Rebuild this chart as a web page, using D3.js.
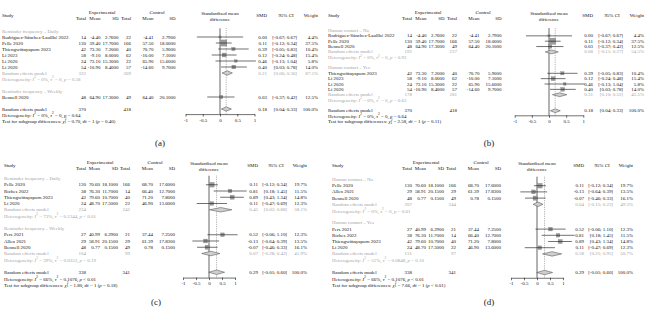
<!DOCTYPE html>
<html>
<head>
<meta charset="utf-8">
<script src="https://cdn.jsdelivr.net/npm/d3@7"></script>
<style>
body { margin: 0; background: #fff; }
svg { display: block; font-family: "Liberation Serif", "DejaVu Serif", serif; }
</style>
</head>
<body>
<div id="chart"></div>
<script>
// outcome 1 (panels a, b)
const studies1 = [
    { study: "Rodriguez-Sánchez-Laullhé 2022", nE: 14, mE: -4.40, sE: 2.76, nC: 22, mC: -4.41, sC: 2.79, smd: 0.00, lo: -0.67, hi: 0.67, w: 4.4 },
    { study: "Pelle 2020", nE: 130, mE: 59.40, sE: 17.70, nC: 166, mC: 57.50, sC: 18.00, smd: 0.11, lo: -0.12, hi: 0.34, w: 37.5 },
    { study: "Thiengwittayaporn 2023", nE: 42, mE: 73.30, sE: 7.20, nC: 40, mC: 70.70, sC: 5.90, smd: 0.39, lo: -0.05, hi: 0.83, w: 10.4 },
    { study: "Li 2023", nE: 58, mE: -9.10, sE: 8.00, nC: 62, mC: -10.00, sC: 7.10, smd: 0.12, lo: -0.24, hi: 0.48, w: 15.4 },
    { study: "Li 2020", nE: 24, mE: 73.10, sE: 15.30, nC: 22, mC: 65.90, sC: 15.60, smd: 0.46, lo: -0.13, hi: 1.04, w: 5.8 },
    { study: "Li 2020", nE: 54, mE: -10.90, sE: 8.40, nC: 57, mC: -14.60, sC: 9.70, smd: 0.40, lo: 0.03, hi: 0.78, w: 14.0 },
    { study: "Bennell 2020", nE: 48, mE: 64.90, sE: 17.30, nC: 49, mC: 64.40, sC: 20.10, smd: 0.03, lo: -0.37, hi: 0.42, w: 12.5 }
];

// outcome 2 (panels c, d)
const studies2 = [
    { study: "Pelle 2020", nE: 130, mE: 70.60, sE: 18.10, nC: 166, mC: 68.70, sC: 17.60, smd: 0.11, lo: -0.12, hi: 0.34, w: 19.7 },
    { study: "Riches 2022", nE: 38, mE: 76.30, sE: 11.70, nC: 14, mC: 66.40, sC: 12.70, smd: 0.81, lo: 0.18, hi: 1.45, w: 11.5 },
    { study: "Thiengwittayaporn 2023", nE: 42, mE: 79.60, sE: 10.70, nC: 40, mC: 71.20, sC: 7.80, smd: 0.89, lo: 0.43, hi: 1.34, w: 14.8 },
    { study: "Li 2020", nE: 24, mE: 48.70, sE: 17.50, nC: 22, mC: 46.90, sC: 13.60, smd: 0.11, lo: -0.47, hi: 0.69, w: 12.3 },
    { study: "Pers 2021", nE: 27, mE: 40.99, sE: 6.29, nC: 21, mC: 37.44, sC: 7.25, smd: 0.52, lo: -0.06, hi: 1.10, w: 12.3 },
    { study: "Allen 2021", nE: 29, mE: 58.91, sE: 20.15, nC: 29, mC: 61.39, sC: 17.83, smd: -0.13, lo: -0.64, hi: 0.39, w: 13.5 },
    { study: "Bennell 2020", nE: 48, mE: 0.77, sE: 0.15, nC: 49, mC: 0.78, sC: 0.15, smd: -0.07, lo: -0.46, hi: 0.33, w: 16.1 }
];

// subgroups
const groupsA = [
    { label: "Reminder frequency – Daily", ids: [0, 1, 2, 3, 4, 5],
      pooled: { nE: 322, nC: 369, smd: 0.21, lo: 0.06, hi: 0.36, w: 87.5 }, het: { i2: "0%", t2: "0", p: "= 0.58" } },
    { label: "Reminder frequency – Weekly", ids: [6] }
];
const groupsB = [
    { label: "Human contact – No", ids: [0, 1, 6],
      pooled: { nE: 192, nC: 237, smd: 0.08, lo: -0.11, hi: 0.27, w: 54.5 }, het: { i2: "0%", t2: "0", p: "= 0.92" } },
    { label: "Human contact – Yes", ids: [2, 3, 4, 5],
      pooled: { nE: 178, nC: 181, smd: 0.31, lo: 0.10, hi: 0.52, w: 45.5 }, het: { i2: "0%", t2: "0", p: "= 0.63" } }
];
const groupsC = [
    { label: "Reminder frequency – Daily", ids: [0, 1, 2, 3],
      pooled: { nE: 234, nC: 242, smd: 0.45, lo: 0.02, hi: 0.88, w: 58.1 }, het: { i2: "73%", t2: "0.1344", p: "< 0.01" } },
    { label: "Reminder frequency – Weekly", ids: [4, 5, 6],
      pooled: { nE: 104, nC: 99, smd: 0.07, lo: -0.28, hi: 0.42, w: 41.9 }, het: { i2: "39%", t2: "0.0353", p: "= 0.19" } }
];
const groupsD = [
    { label: "Human contact – No", ids: [0, 5, 6],
      pooled: { nE: 207, nC: 244, smd: 0.04, lo: -0.15, hi: 0.23, w: 49.3 }, het: { i2: "0%", t2: "0", p: "= 0.61" } },
    { label: "Human contact – Yes", ids: [4, 1, 2, 3],
      pooled: { nE: 131, nC: 97, smd: 0.58, lo: 0.21, hi: 0.95, w: 50.7 }, het: { i2: "51%", t2: "0.0848", p: "= 0.10" } }
];

// overall random effects
const overall1 = { nE: 370, nC: 418, smd: 0.18, lo: 0.04, hi: 0.33, w: 100.0 };
const overall2 = { nE: 338, nC: 341, smd: 0.29, lo: -0.01, hi: 0.60, w: 100.0 };
const hetAll1 = { i2: "0%", t2: "0", p: "= 0.64" };
const hetAll2 = { i2: "66%", t2: "0.1076", p: "< 0.01" };
const tests = [
    { chi: "0.70", p: "= 0.40" },
    { chi: "2.58", p: "= 0.11" },
    { chi: "1.80", p: "= 0.18" },
    { chi: "7.66", p: "< 0.01" }
];
const xTicks = [-1, -0.5, 0, 0.5, 1];

const W = 648, H = 313;
const FS = 4.95;
const GREY = "#a3a3a3";
const INK = "#111";

const colsAB = { tE: 86, mE: 100.5, sE: 118.5, tC: 131, mC: 153.5, sC: 175.5, smd: 267, ci: 297, w: 318, expC: 102, ctlC: 157 };
const colsCD = { tE: 86, mE: 100, sE: 118, tC: 130, mC: 153, sC: 175, smd: 258, ci: 287, w: 307, expC: 100, ctlC: 155 };

const svg = d3.select("#chart").append("svg")
    .attr("width", W)
    .attr("height", H);
svg.append("rect").attr("width", W).attr("height", H).attr("fill", "#fff");

function buildRows(studies, groups, overall, hetAll, test) {
    var rows = [];
    groups.forEach(g => {
        rows.push({ type: "sub", text: g.label });
        g.ids.forEach(i => rows.push(Object.assign({ type: "study" }, studies[i])));
        if (g.pooled) {
            rows.push(Object.assign({ type: "re", grey: true }, g.pooled));
            rows.push({ type: "het", grey: true, het: g.het });
        }
        rows.push({ type: "blank" });
    });
    rows.push(Object.assign({ type: "re", overall: true }, overall));
    rows.push({ type: "het", het: hetAll });
    rows.push({ type: "test", test: test });
    return rows;
}

function txt(g, x, y, s, anchor, col) {
    return g.append("text")
        .attr("x", x).attr("y", y)
        .attr("text-anchor", anchor || "start")
        .attr("dominant-baseline", "central")
        .attr("font-size", FS)
        .attr("fill", col || INK)
        .text(s);
}

// segments: [text, style] with style "i", "sup", "sub"
function rich(g, x, y, segs, col) {
    var t = g.append("text")
        .attr("x", x).attr("y", y)
        .attr("dominant-baseline", "central")
        .attr("font-size", FS)
        .attr("fill", col || INK);
    var shift = 0;
    segs.forEach(s => {
        var sp = t.append("tspan").text(s[0]);
        var target = 0;
        if (s[1] == "i") sp.attr("font-style", "italic");
        if (s[1] == "sup") { target = -1.7; sp.attr("font-size", FS * 0.7); }
        if (s[1] == "sub") { target = 1.4; sp.attr("font-size", FS * 0.7).attr("dx", -1.9); }
        if (target != shift) { sp.attr("dy", target - shift); shift = target; }
    });
}

function hetSegs(h) {
    return [["Heterogeneity: "], ["I", "i"], ["2", "sup"], [" = " + h.i2 + ", "], ["τ", "i"], ["2", "sup"],
        [" = " + h.t2 + ", "], ["p", "i"], [" " + h.p]];
}

function testSegs(t) {
    return [["Test for subgroup differences: "], ["χ", "i"], ["2", "sup"], ["1", "sub"],
        [" = " + t.chi + ", df = 1 ("], ["p", "i"], [" " + t.p + ")"]];
}

const f2 = v => v.toFixed(2);
const f4 = v => v.toFixed(4);
const ciText = d => "[" + f2(d.lo) + "; " + f2(d.hi) + "]";

function drawPanel(cfg, rows) {
    var c = cfg.cols;
    var g = svg.append("g").attr("transform", "translate(" + cfg.x0 + "," + cfg.y0 + ")");

    var y = d3.scaleLinear().domain([0, 1]).range([cfg.first, cfg.first + cfg.pitch]);
    var x = d3.scaleLinear().domain([-1, 1]).range([cfg.zero - cfg.unit, cfg.zero + cfg.unit]);

    // headers
    txt(g, cfg.studyX, 15.5, "Study");
    txt(g, c.expC, 12.5, "Experimental", "middle");
    txt(g, c.ctlC, 12.5, "Control", "middle");
    [["Total", c.tE], ["Mean", c.mE], ["SD", c.sE], ["Total", c.tC], ["Mean", c.mC], ["SD", c.sC]]
        .forEach(h => txt(g, h[1], 18.5, h[0], "end"));
    txt(g, cfg.zero, 13, "Standardised mean", "middle");
    txt(g, cfg.zero, 19, "difference", "middle");
    txt(g, c.smd, 15.5, "SMD", "end");
    txt(g, c.ci - 11, 15.5, "95% CI", "middle");
    txt(g, c.w, 15.5, "Weight", "end");

    var overallIdx = rows.findIndex(r => r.overall);
    var overall = rows[overallIdx];
    var top = y(0) - cfg.pitch * 0.45;
    var axisY = y(overallIdx) + cfg.pitch * 0.85;

    // reference lines
    g.append("line")
        .attr("x1", x(0)).attr("x2", x(0))
        .attr("y1", top).attr("y2", axisY)
        .attr("stroke", "#222").attr("stroke-width", 0.7);
    g.append("line")
        .attr("x1", x(overall.smd)).attr("x2", x(overall.smd))
        .attr("y1", top).attr("y2", axisY)
        .attr("stroke", "#555").attr("stroke-width", 0.6)
        .attr("stroke-dasharray", "0.7,1.1");

    rows.forEach((r, i) => {
        var yy = y(i);
        var col = r.grey ? GREY : INK;
        if (r.type == "sub") {
            txt(g, cfg.studyX, yy, r.text, "start", GREY);
        } else if (r.type == "study") {
            txt(g, cfg.studyX, yy, r.study);
            txt(g, c.tE, yy, r.nE, "end");
            txt(g, c.mE, yy, f2(r.mE), "end");
            txt(g, c.sE, yy, f4(r.sE), "end");
            txt(g, c.tC, yy, r.nC, "end");
            txt(g, c.mC, yy, f2(r.mC), "end");
            txt(g, c.sC, yy, f4(r.sC), "end");
            txt(g, c.smd, yy, f2(r.smd), "end");
            txt(g, c.ci, yy, ciText(r), "end");
            txt(g, c.w, yy, r.w.toFixed(1) + "%", "end");
            var side = cfg.sq * Math.sqrt(r.w);
            g.append("rect")
                .attr("x", x(r.smd) - side / 2).attr("y", yy - side / 2)
                .attr("width", side).attr("height", side)
                .attr("fill", "#9b9b9b").attr("stroke", "#7a7a7a").attr("stroke-width", 0.3);
            g.append("line")
                .attr("x1", x(r.lo)).attr("x2", x(r.hi))
                .attr("y1", yy).attr("y2", yy)
                .attr("stroke", "#111").attr("stroke-width", 0.6);
        } else if (r.type == "re") {
            txt(g, cfg.studyX, yy, "Random effects model", "start", col);
            txt(g, c.tE, yy, r.nE, "end", col);
            txt(g, c.tC, yy, r.nC, "end", col);
            txt(g, c.smd, yy, f2(r.smd), "end", col);
            txt(g, c.ci, yy, ciText(r), "end", col);
            txt(g, c.w, yy, r.w.toFixed(1) + "%", "end", col);
            var h = cfg.pitch * 0.36;
            g.append("path")
                .attr("d", "M" + x(r.lo) + "," + yy + "L" + x(r.smd) + "," + (yy - h) +
                    "L" + x(r.hi) + "," + yy + "L" + x(r.smd) + "," + (yy + h) + "Z")
                .attr("fill", "#cfcfcf").attr("stroke", "#444").attr("stroke-width", 0.5);
        } else if (r.type == "het") {
            rich(g, cfg.studyX, yy, hetSegs(r.het), col);
        } else if (r.type == "test") {
            rich(g, cfg.studyX, yy, testSegs(r.test), col);
        }
    });

    // x axis
    var axis = g.append("g")
        .attr("transform", "translate(0," + axisY + ")")
        .call(d3.axisBottom(x).tickValues(xTicks).tickSize(2.5).tickSizeOuter(0).tickPadding(1.4)
            .tickFormat(d => String(d)));
    axis.select(".domain").attr("stroke", "#111").attr("stroke-width", 0.6);
    axis.selectAll(".tick line").attr("stroke", "#111").attr("stroke-width", 0.6);
    axis.selectAll(".tick text")
        .attr("font-size", FS).attr("fill", INK)
        .attr("font-family", "Liberation Serif, DejaVu Serif, serif");

    // panel label
    g.append("text")
        .attr("x", cfg.labX).attr("y", cfg.labY)
        .attr("text-anchor", "middle").attr("dominant-baseline", "central")
        .attr("font-size", 9).attr("fill", "#222")
        .text(cfg.label);
}

drawPanel({ x0: 0, y0: 0, first: 31, pitch: 6.0, studyX: 2, cols: colsAB, zero: 220, unit: 34.5, sq: 1.0, label: "(a)", labX: 160, labY: 143 },
    buildRows(studies1, groupsA, overall1, hetAll1, tests[0]));
drawPanel({ x0: 326, y0: 0, first: 30.5, pitch: 5.35, studyX: 2, cols: colsAB, zero: 223, unit: 34.3, sq: 1.0, label: "(b)", labX: 163, labY: 143 },
    buildRows(studies1, groupsB, overall1, hetAll1, tests[1]));
drawPanel({ x0: 0, y0: 150, first: 28.5, pitch: 6.25, studyX: 4, cols: colsCD, zero: 209, unit: 26, sq: 1.05, label: "(c)", labX: 156, labY: 152 },
    buildRows(studies2, groupsC, overall2, hetAll2, tests[2]));
drawPanel({ x0: 326, y0: 150, first: 29.5, pitch: 6.2, studyX: 6, cols: colsCD, zero: 211, unit: 26, sq: 1.05, label: "(d)", labX: 163, labY: 152 },
    buildRows(studies2, groupsD, overall2, hetAll2, tests[3]));
</script>
</body>
</html>
